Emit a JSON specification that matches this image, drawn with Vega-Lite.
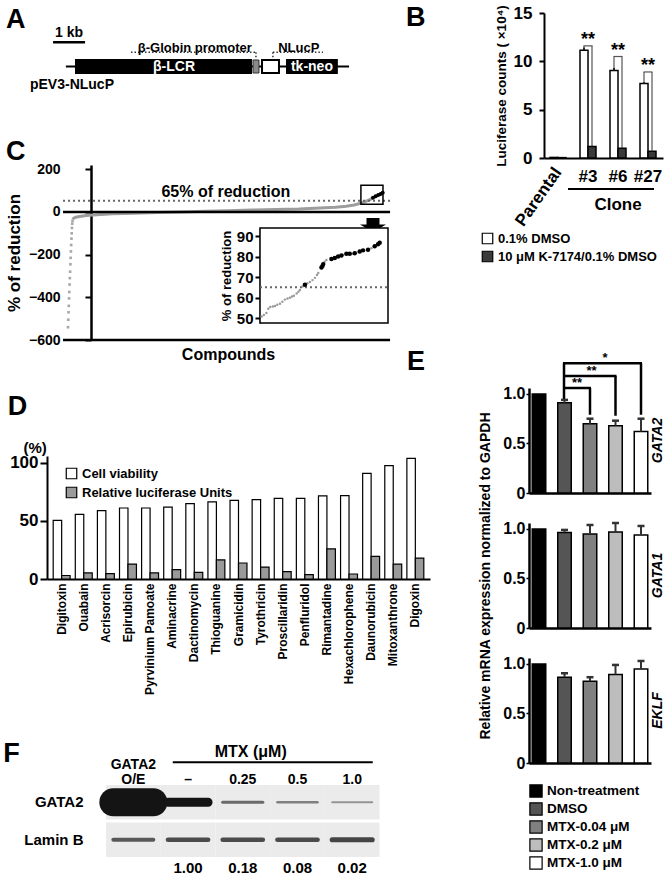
{
"$schema": "https://vega.github.io/schema/vega-lite/v6.json",
"background": "white",
"padding": {"left": 3, "top": 4, "right": 0, "bottom": 0},
"config": {
  "font": "Liberation Sans",
  "view": {"stroke": null},
  "axis": {"labelFont": "Liberation Sans", "titleFont": "Liberation Sans", "labelFontWeight": "bold", "titleFontWeight": "bold", "labelColor": "black", "titleColor": "black", "domainColor": "black", "tickColor": "black", "grid": false, "labelOverlap": false, "labelBound": false},
  "legend": {"labelFont": "Liberation Sans", "labelFontWeight": "bold", "labelColor": "black", "symbolType": "square", "symbolStrokeColor": "black", "symbolStrokeWidth": 1.2, "symbolOpacity": 1},
  "text": {"font": "Liberation Sans", "fontWeight": "bold", "color": "black"}
},
"datasets": {
  "construct": [
    {"feature": "vector", "start": 0.59, "end": 9.44},
    {"feature": "1 kb", "start": 0.19, "end": 1.19},
    {"feature": "β-LCR", "start": 0.875, "end": 6.41},
    {"feature": "β-Globin promoter", "start": 6.44, "end": 6.625},
    {"feature": "NLucP", "start": 6.72, "end": 7.25},
    {"feature": "tk-neo", "start": 7.47, "end": 9.09}
  ],
  "constructLabels": [
    {"label": "β-LCR", "kb": 3.97, "place": "inside"},
    {"label": "tk-neo", "kb": 8.28, "place": "inside"},
    {"label": "β-Globin promoter", "kb": 4.62, "place": "above"},
    {"label": "NLucP", "kb": 7.87, "place": "above"},
    {"label": "1 kb", "kb": 0.69, "place": "scale"},
    {"label": "pEV3-NLucP", "kb": 0.78, "place": "name"},
    {"label": "A", "kb": -1.28, "place": "panel"}
  ],
  "leaders": [
    {"label": "β-Globin promoter", "from": 2.625, "to": 6.53, "drop": 6.53},
    {"label": "NLucP", "from": 7.06, "to": 8.625, "drop": 7.06}
  ],
  "luc": [
    {"sample": "Parental", "treatment": "0.1% DMSO", "value": 0.06, "upper": 0.06},
    {"sample": "Parental", "treatment": "10 μM K-7174/0.1% DMSO", "value": 0.04, "upper": 0.04},
    {"sample": "#3", "treatment": "0.1% DMSO", "value": 11.15, "upper": 11.45},
    {"sample": "#3", "treatment": "10 μM K-7174/0.1% DMSO", "value": 1.2, "upper": 1.3},
    {"sample": "#6", "treatment": "0.1% DMSO", "value": 9.05, "upper": 9.35},
    {"sample": "#6", "treatment": "10 μM K-7174/0.1% DMSO", "value": 1.0, "upper": 1.08},
    {"sample": "#27", "treatment": "0.1% DMSO", "value": 7.7, "upper": 7.85},
    {"sample": "#27", "treatment": "10 μM K-7174/0.1% DMSO", "value": 0.7, "upper": 0.75}
  ],
  "lucSig": [
    {"sample": "#3", "level": 11.6, "leftLow": 11.45, "rightLow": 1.35, "sig": "**"},
    {"sample": "#6", "level": 10.5, "leftLow": 9.35, "rightLow": 1.15, "sig": "**"},
    {"sample": "#27", "level": 8.9, "leftLow": 7.85, "rightLow": 0.82, "sig": "**"}
  ],
  "screenCurve": [
    {"rank": 1, "reduction": -540}, {"rank": 2, "reduction": -505}, {"rank": 3, "reduction": -470}, {"rank": 4, "reduction": -440},
    {"rank": 5, "reduction": -405}, {"rank": 6, "reduction": -375}, {"rank": 7, "reduction": -340}, {"rank": 8, "reduction": -310},
    {"rank": 9, "reduction": -280}, {"rank": 10, "reduction": -245}, {"rank": 11, "reduction": -215}, {"rank": 12, "reduction": -185},
    {"rank": 13, "reduction": -155}, {"rank": 14, "reduction": -125}, {"rank": 15, "reduction": -100}, {"rank": 16, "reduction": -75},
    {"rank": 17, "reduction": -55}, {"rank": 18, "reduction": -42},
    {"rank": 19, "reduction": -35}, {"rank": 22, "reduction": -30}, {"rank": 30, "reduction": -25}, {"rank": 45, "reduction": -21},
    {"rank": 70, "reduction": -17}, {"rank": 110, "reduction": -13}, {"rank": 170, "reduction": -9}, {"rank": 250, "reduction": -6},
    {"rank": 340, "reduction": -3}, {"rank": 430, "reduction": 0}, {"rank": 520, "reduction": 3}, {"rank": 610, "reduction": 6},
    {"rank": 700, "reduction": 9}, {"rank": 790, "reduction": 12}, {"rank": 880, "reduction": 14}, {"rank": 960, "reduction": 18},
    {"rank": 1020, "reduction": 22}, {"rank": 1060, "reduction": 27}, {"rank": 1090, "reduction": 33}, {"rank": 1115, "reduction": 41},
    {"rank": 1135, "reduction": 50}, {"rank": 1150, "reduction": 58}, {"rank": 1162, "reduction": 66}, {"rank": 1172, "reduction": 73},
    {"rank": 1182, "reduction": 79}, {"rank": 1191, "reduction": 84}, {"rank": 1199, "reduction": 90}
  ],
  "cLevels": [
    {"level": 0, "kind": "zero"},
    {"level": -600, "kind": "floor"},
    {"level": 52, "kind": "cutoff"}
  ],
  "topHits": [
    {"i": 1.3, "reduction": 50.8, "hit": false}, {"i": 3, "reduction": 51.5, "hit": false}, {"i": 5, "reduction": 52.5, "hit": false},
    {"i": 6.5, "reduction": 54.5, "hit": false}, {"i": 8, "reduction": 55.4, "hit": false}, {"i": 10, "reduction": 55.6, "hit": false},
    {"i": 11.7, "reduction": 55.9, "hit": false}, {"i": 13.5, "reduction": 56.5, "hit": false}, {"i": 15.6, "reduction": 57, "hit": false},
    {"i": 17.5, "reduction": 58, "hit": false}, {"i": 19.5, "reduction": 59, "hit": false}, {"i": 21.5, "reduction": 59.5, "hit": false},
    {"i": 23.4, "reduction": 59.9, "hit": false}, {"i": 25, "reduction": 60.5, "hit": false}, {"i": 26.5, "reduction": 60.9, "hit": false},
    {"i": 28.6, "reduction": 62, "hit": false}, {"i": 30, "reduction": 62.8, "hit": false}, {"i": 31.2, "reduction": 63.7, "hit": false},
    {"i": 33.2, "reduction": 65.4, "hit": false}, {"i": 35.1, "reduction": 66.2, "hit": true}, {"i": 37, "reduction": 67, "hit": false},
    {"i": 39, "reduction": 67.6, "hit": false}, {"i": 41, "reduction": 68.5, "hit": false}, {"i": 42.9, "reduction": 69.6, "hit": false},
    {"i": 44.5, "reduction": 71, "hit": false}, {"i": 45.5, "reduction": 72, "hit": false}, {"i": 48, "reduction": 74.6, "hit": true},
    {"i": 48.8, "reduction": 75.4, "hit": true}, {"i": 49.4, "reduction": 76.3, "hit": true}, {"i": 50.5, "reduction": 77.5, "hit": false},
    {"i": 51.9, "reduction": 78.3, "hit": false}, {"i": 55.8, "reduction": 78.8, "hit": true}, {"i": 58.4, "reduction": 79.3, "hit": true},
    {"i": 61, "reduction": 80, "hit": true}, {"i": 63.6, "reduction": 80.5, "hit": true}, {"i": 64.9, "reduction": 80.8, "hit": false},
    {"i": 67.5, "reduction": 81.3, "hit": true}, {"i": 70.1, "reduction": 81.3, "hit": true}, {"i": 72, "reduction": 81.4, "hit": false},
    {"i": 74, "reduction": 81.6, "hit": true}, {"i": 75.3, "reduction": 81.8, "hit": false}, {"i": 77.9, "reduction": 82.5, "hit": true},
    {"i": 80.5, "reduction": 83, "hit": true}, {"i": 84.4, "reduction": 83.3, "hit": true}, {"i": 87, "reduction": 84, "hit": false},
    {"i": 89.6, "reduction": 85, "hit": true}, {"i": 92.2, "reduction": 86, "hit": true}, {"i": 93.5, "reduction": 86.7, "hit": true}
  ],
  "screen": [
    {"compound": "Digitoxin", "measure": "Cell viability", "value": 50.5}, {"compound": "Digitoxin", "measure": "Relative luciferase Units", "value": 3},
    {"compound": "Ouabain", "measure": "Cell viability", "value": 55.7}, {"compound": "Ouabain", "measure": "Relative luciferase Units", "value": 5.2},
    {"compound": "Acrisorcin", "measure": "Cell viability", "value": 58.9}, {"compound": "Acrisorcin", "measure": "Relative luciferase Units", "value": 4.6},
    {"compound": "Epirubicin", "measure": "Cell viability", "value": 61.2}, {"compound": "Epirubicin", "measure": "Relative luciferase Units", "value": 12.9},
    {"compound": "Pyrvinium Pamoate", "measure": "Cell viability", "value": 61.2}, {"compound": "Pyrvinium Pamoate", "measure": "Relative luciferase Units", "value": 5.2},
    {"compound": "Aminacrine", "measure": "Cell viability", "value": 62}, {"compound": "Aminacrine", "measure": "Relative luciferase Units", "value": 8},
    {"compound": "Dactinomycin", "measure": "Cell viability", "value": 65}, {"compound": "Dactinomycin", "measure": "Relative luciferase Units", "value": 5.7},
    {"compound": "Thioguanine", "measure": "Cell viability", "value": 66.4}, {"compound": "Thioguanine", "measure": "Relative luciferase Units", "value": 16.4},
    {"compound": "Gramicidin", "measure": "Cell viability", "value": 67.8}, {"compound": "Gramicidin", "measure": "Relative luciferase Units", "value": 13.8},
    {"compound": "Tyrothricin", "measure": "Cell viability", "value": 68.4}, {"compound": "Tyrothricin", "measure": "Relative luciferase Units", "value": 10.3},
    {"compound": "Proscillaridin", "measure": "Cell viability", "value": 69.5}, {"compound": "Proscillaridin", "measure": "Relative luciferase Units", "value": 6.3},
    {"compound": "Penfluridol", "measure": "Cell viability", "value": 69.5}, {"compound": "Penfluridol", "measure": "Relative luciferase Units", "value": 3.7},
    {"compound": "Rimantadine", "measure": "Cell viability", "value": 71.6}, {"compound": "Rimantadine", "measure": "Relative luciferase Units", "value": 25.9},
    {"compound": "Hexachlorophene", "measure": "Cell viability", "value": 71.8}, {"compound": "Hexachlorophene", "measure": "Relative luciferase Units", "value": 4.3},
    {"compound": "Daunorubicin", "measure": "Cell viability", "value": 91.1}, {"compound": "Daunorubicin", "measure": "Relative luciferase Units", "value": 19.5},
    {"compound": "Mitoxanthrone", "measure": "Cell viability", "value": 97.7}, {"compound": "Mitoxanthrone", "measure": "Relative luciferase Units", "value": 12.9},
    {"compound": "Digoxin", "measure": "Cell viability", "value": 104}, {"compound": "Digoxin", "measure": "Relative luciferase Units", "value": 18}
  ],
  "qpcr": [
    {"gene": "GATA2", "condition": "Non-treatment", "value": 1.0, "upper": 1.0},
    {"gene": "GATA2", "condition": "DMSO", "value": 0.91, "upper": 0.94},
    {"gene": "GATA2", "condition": "MTX-0.04 μM", "value": 0.70, "upper": 0.75},
    {"gene": "GATA2", "condition": "MTX-0.2 μM", "value": 0.68, "upper": 0.73},
    {"gene": "GATA2", "condition": "MTX-1.0 μM", "value": 0.62, "upper": 0.75},
    {"gene": "GATA1", "condition": "Non-treatment", "value": 1.0, "upper": 1.0},
    {"gene": "GATA1", "condition": "DMSO", "value": 0.965, "upper": 0.99},
    {"gene": "GATA1", "condition": "MTX-0.04 μM", "value": 0.95, "upper": 1.04},
    {"gene": "GATA1", "condition": "MTX-0.2 μM", "value": 0.97, "upper": 1.06},
    {"gene": "GATA1", "condition": "MTX-1.0 μM", "value": 0.94, "upper": 1.03},
    {"gene": "EKLF", "condition": "Non-treatment", "value": 1.0, "upper": 1.0},
    {"gene": "EKLF", "condition": "DMSO", "value": 0.866, "upper": 0.906},
    {"gene": "EKLF", "condition": "MTX-0.04 μM", "value": 0.826, "upper": 0.866},
    {"gene": "EKLF", "condition": "MTX-0.2 μM", "value": 0.893, "upper": 0.99},
    {"gene": "EKLF", "condition": "MTX-1.0 μM", "value": 0.95, "upper": 1.03}
  ],
  "gata2Sig": [
    {"vs": "MTX-0.04 μM", "level": 1.06, "legEnd": 0.79, "fromTop": 0.95, "sig": "**"},
    {"vs": "MTX-0.2 μM", "level": 1.18, "legEnd": 0.78, "fromTop": 0.95, "sig": "**"},
    {"vs": "MTX-1.0 μM", "level": 1.31, "legEnd": 0.79, "fromTop": 0.95, "sig": "*"}
  ],
  "blot": [
    {"lane": "O/E", "protein": "GATA2", "intensity": 3.7},
    {"lane": "–", "protein": "GATA2", "intensity": 1.0},
    {"lane": "0.25", "protein": "GATA2", "intensity": 0.18},
    {"lane": "0.5", "protein": "GATA2", "intensity": 0.08},
    {"lane": "1.0", "protein": "GATA2", "intensity": 0.02},
    {"lane": "O/E", "protein": "Lamin B", "intensity": 0.3},
    {"lane": "–", "protein": "Lamin B", "intensity": 0.4},
    {"lane": "0.25", "protein": "Lamin B", "intensity": 0.4},
    {"lane": "0.5", "protein": "Lamin B", "intensity": 0.4},
    {"lane": "1.0", "protein": "Lamin B", "intensity": 0.45}
  ]
},
"spacing": -24,
"resolve": {"scale": {"fill": "independent"}},
"hconcat": [
 {"bounds": "flush", "spacing": 0,
  "resolve": {"scale": {"fill": "independent"}},
  "vconcat": [
  {
   "width": 383, "height": 87,
   "layer": [
    {"data": {"name": "construct"}, "transform": [{"filter": "datum.feature === 'vector'"}],
     "mark": {"type": "rule", "strokeWidth": 2, "color": "black"},
     "encoding": {"x": {"field": "start", "type": "quantitative", "scale": {"domain": [0, 11.97], "nice": false, "zero": false}, "axis": null}, "x2": {"field": "end"},
                  "y": {"datum": 0, "type": "quantitative", "scale": {"domain": [-3.35, 5.35], "nice": false, "zero": false}, "axis": null}}},
    {"data": {"name": "construct"}, "transform": [{"filter": "datum.feature === '1 kb'"}],
     "mark": {"type": "rule", "strokeWidth": 2.5, "color": "black"},
     "encoding": {"x": {"field": "start", "type": "quantitative", "axis": null}, "x2": {"field": "end"}, "y": {"datum": 2.42, "type": "quantitative", "axis": null}}},
    {"data": {"name": "construct"}, "transform": [{"filter": "datum.feature === 'β-LCR' || datum.feature === 'tk-neo'"}],
     "mark": {"type": "rect", "color": "black"},
     "encoding": {"x": {"field": "start", "type": "quantitative", "axis": null}, "x2": {"field": "end"}, "y": {"datum": -0.75, "type": "quantitative", "axis": null}, "y2": {"datum": 0.75}}},
    {"data": {"name": "construct"}, "transform": [{"filter": "datum.feature === 'β-Globin promoter'"}],
     "mark": {"type": "rect", "fill": "#8a8a8a", "stroke": "#333", "strokeWidth": 1},
     "encoding": {"x": {"field": "start", "type": "quantitative", "axis": null}, "x2": {"field": "end"}, "y": {"datum": -0.65, "type": "quantitative", "axis": null}, "y2": {"datum": 0.65}}},
    {"data": {"name": "construct"}, "transform": [{"filter": "datum.feature === 'NLucP'"}],
     "mark": {"type": "rect", "fill": "white", "stroke": "black", "strokeWidth": 2},
     "encoding": {"x": {"field": "start", "type": "quantitative", "axis": null}, "x2": {"field": "end"}, "y": {"datum": -0.65, "type": "quantitative", "axis": null}, "y2": {"datum": 0.65}}},
    {"data": {"name": "leaders"},
     "mark": {"type": "rule", "strokeWidth": 1.5, "strokeDash": [1.5, 2], "color": "#333"},
     "encoding": {"x": {"field": "from", "type": "quantitative", "axis": null}, "x2": {"field": "to"}, "y": {"datum": 1.42, "type": "quantitative", "axis": null}}},
    {"data": {"name": "leaders"},
     "mark": {"type": "rule", "strokeWidth": 1.5, "strokeDash": [1.5, 2], "color": "#333"},
     "encoding": {"x": {"field": "drop", "type": "quantitative", "axis": null}, "y": {"datum": 1.42, "type": "quantitative", "axis": null}, "y2": {"datum": 0.7}}},
    {"data": {"name": "constructLabels"}, "transform": [{"filter": "datum.place === 'inside'"}],
     "mark": {"type": "text", "fontSize": 14, "color": "white", "baseline": "middle"},
     "encoding": {"x": {"field": "kb", "type": "quantitative", "axis": null}, "y": {"datum": 0, "type": "quantitative", "axis": null}, "text": {"field": "label", "type": "nominal"}}},
    {"data": {"name": "constructLabels"}, "transform": [{"filter": "datum.place === 'above'"}],
     "mark": {"type": "text", "fontSize": 13, "baseline": "alphabetic"},
     "encoding": {"x": {"field": "kb", "type": "quantitative", "axis": null}, "y": {"datum": 1.5, "type": "quantitative", "axis": null}, "text": {"field": "label", "type": "nominal"}}},
    {"data": {"name": "constructLabels"}, "transform": [{"filter": "datum.place === 'scale'"}],
     "mark": {"type": "text", "fontSize": 14, "baseline": "alphabetic"},
     "encoding": {"x": {"field": "kb", "type": "quantitative", "axis": null}, "y": {"datum": 2.95, "type": "quantitative", "axis": null}, "text": {"field": "label", "type": "nominal"}}},
    {"data": {"name": "constructLabels"}, "transform": [{"filter": "datum.place === 'name'"}],
     "mark": {"type": "text", "fontSize": 14, "baseline": "alphabetic"},
     "encoding": {"x": {"field": "kb", "type": "quantitative", "axis": null}, "y": {"datum": -2.25, "type": "quantitative", "axis": null}, "text": {"field": "label", "type": "nominal"}}},
    {"data": {"name": "constructLabels"}, "transform": [{"filter": "datum.place === 'panel'"}],
     "mark": {"type": "text", "fontSize": 27, "align": "left", "baseline": "alphabetic"},
     "encoding": {"x": {"field": "kb", "type": "quantitative", "axis": null}, "y": {"datum": 3.85, "type": "quantitative", "axis": null}, "text": {"field": "label", "type": "nominal"}}}
   ]
  },
  {"width": 1, "height": 65, "data": {"values": []}, "mark": "point"},
  {
   "width": 383, "height": 175,
   "resolve": {"scale": {"x": "independent", "y": "independent"}, "axis": {"x": "independent", "y": "independent"}},
   "layer": [
    {"layer": [
      {"data": {"name": "screenCurve"}, "transform": [{"filter": "datum.reduction > -40"}],
       "mark": {"type": "line", "color": "#9d9d9d", "strokeWidth": 3},
       "encoding": {
         "x": {"field": "rank", "type": "quantitative", "scale": {"domain": [-79, 1379], "nice": false, "zero": false},
               "axis": {"title": "Compounds", "domain": false, "ticks": false, "labels": false, "titleFontSize": 16, "titleX": 181, "titlePadding": 6}},
         "y": {"field": "reduction", "type": "quantitative", "scale": {"domain": [-600, 220], "nice": false, "zero": false},
               "axis": {"values": [-600, -500, -400, -300, -200, -100, 0, 100, 200], "labelOverlap": false, "offset": -44, "tickSize": 6, "tickWidth": 2, "domainWidth": 2.5, "labelFontSize": 14, "labelPadding": 25, "title": "% of reduction", "titleFontSize": 17, "titlePadding": 5}}}},
      {"data": {"name": "screenCurve"}, "transform": [{"filter": "datum.reduction <= -40"}],
       "mark": {"type": "square", "size": 7, "color": "#a8a8a8", "opacity": 1},
       "encoding": {"x": {"field": "rank", "type": "quantitative"},
                    "y": {"field": "reduction", "type": "quantitative",
                          "axis": {"values": [-600, -500, -400, -300, -200, -100, 0, 100, 200], "labelOverlap": false, "offset": -44, "tickSize": 6, "tickWidth": 2, "domainWidth": 2.5, "labelFontSize": 14, "labelPadding": 25, "title": "% of reduction", "titleFontSize": 17, "titlePadding": 5}}}},
      {"data": {"name": "screenCurve"}, "transform": [{"filter": "datum.reduction >= 60"}],
       "mark": {"type": "circle", "size": 16, "color": "black", "opacity": 1},
       "encoding": {"x": {"field": "rank", "type": "quantitative"},
                    "y": {"field": "reduction", "type": "quantitative",
                          "axis": {"values": [-600, -500, -400, -300, -200, -100, 0, 100, 200], "labelOverlap": false, "offset": -44, "tickSize": 6, "tickWidth": 2, "domainWidth": 2.5, "labelFontSize": 14, "labelPadding": 25, "title": "% of reduction", "titleFontSize": 17, "titlePadding": 5}}}},
      {"data": {"name": "cLevels"}, "transform": [{"filter": "datum.kind !== 'cutoff'"}],
       "mark": {"type": "rule", "strokeWidth": 2.5, "color": "black"},
       "encoding": {"x": {"datum": -18, "type": "quantitative"}, "x2": {"datum": 1227},
                    "y": {"field": "level", "type": "quantitative",
                          "axis": {"values": [-600, -500, -400, -300, -200, -100, 0, 100, 200], "labelOverlap": false, "offset": -44, "tickSize": 6, "tickWidth": 2, "domainWidth": 2.5, "labelFontSize": 14, "labelPadding": 25, "title": "% of reduction", "titleFontSize": 17, "titlePadding": 5}}}},
      {"data": {"name": "cLevels"}, "transform": [{"filter": "datum.kind === 'cutoff'"}],
       "mark": {"type": "rule", "strokeWidth": 2, "strokeDash": [2, 3], "color": "#666"},
       "encoding": {"x": {"datum": -18, "type": "quantitative"}, "x2": {"datum": 1227},
                    "y": {"field": "level", "type": "quantitative",
                          "axis": {"values": [-600, -500, -400, -300, -200, -100, 0, 100, 200], "labelOverlap": false, "offset": -44, "tickSize": 6, "tickWidth": 2, "domainWidth": 2.5, "labelFontSize": 14, "labelPadding": 25, "title": "% of reduction", "titleFontSize": 17, "titlePadding": 5}}}},
      {"data": {"values": [{"note": "hits"}]},
       "mark": {"type": "rect", "filled": false, "stroke": "black", "strokeWidth": 1.5},
       "encoding": {"x": {"datum": 1116, "type": "quantitative"}, "x2": {"datum": 1200}, "y": {"datum": 125, "type": "quantitative"}, "y2": {"datum": 36}}},
      {"data": {"values": [{"note": "arrow"}]},
       "mark": {"type": "point", "filled": true, "color": "black", "opacity": 1, "size": 676, "shape": "M-0.5,-0.55L0.5,-0.55L0.5,-0.05L1,-0.05L0,0.55L-1,-0.05L-0.5,-0.05Z"},
       "encoding": {"x": {"datum": 1162, "type": "quantitative"}, "y": {"datum": -62, "type": "quantitative"}}},
      {"data": {"values": [{"note": "65% of reduction"}]},
       "mark": {"type": "text", "fontSize": 16, "baseline": "alphabetic"},
       "encoding": {"x": {"datum": 602, "type": "quantitative"}, "y": {"datum": 69, "type": "quantitative"}, "text": {"field": "note", "type": "nominal"}}},
      {"data": {"values": [{"note": "C"}]},
       "mark": {"type": "text", "fontSize": 27, "align": "left", "baseline": "alphabetic"},
       "encoding": {"x": {"datum": -235, "type": "quantitative"}, "y": {"datum": 242, "type": "quantitative"}, "text": {"field": "note", "type": "nominal"}}}
    ]},
    {"layer": [
      {"data": {"values": [{"note": "inset"}]},
       "mark": {"type": "rect", "fill": "white", "stroke": "black", "strokeWidth": 1.5},
       "encoding": {
         "x": {"datum": 0, "type": "quantitative", "scale": {"domain": [0, 100], "range": [213, 341], "nice": false, "zero": false}, "axis": null},
         "x2": {"datum": 100},
         "y": {"datum": 47.6, "type": "quantitative", "scale": {"domain": [47.6, 93.9], "range": [158, 63], "nice": false, "zero": false}},
         "y2": {"datum": 93.9}}},
      {"data": {"values": [{"note": "cutoff"}]},
       "mark": {"type": "rule", "strokeWidth": 2, "strokeDash": [2, 3], "color": "#666"},
       "encoding": {"x": {"datum": 0, "type": "quantitative", "axis": null}, "x2": {"datum": 100}, "y": {"datum": 65, "type": "quantitative"}}},
      {"data": {"name": "topHits"}, "transform": [{"filter": "!datum.hit"}],
       "mark": {"type": "circle", "size": 6, "color": "#9a9a9a", "opacity": 1},
       "encoding": {"x": {"field": "i", "type": "quantitative", "axis": null},
                    "y": {"field": "reduction", "type": "quantitative",
                          "axis": {"orient": "left", "offset": -213, "values": [50, 60, 70, 80, 90], "labelOverlap": false, "tickSize": 5, "tickWidth": 2, "domainWidth": 1.5, "labelFontSize": 15, "labelPadding": 2, "title": "% of reduction", "titleFontSize": 13, "titlePadding": 3}}}},
      {"data": {"name": "topHits"}, "transform": [{"filter": "datum.hit"}],
       "mark": {"type": "circle", "size": 20, "color": "black", "opacity": 1},
       "encoding": {"x": {"field": "i", "type": "quantitative", "axis": null}, "y": {"field": "reduction", "type": "quantitative"}}}
    ]}
   ]
  },
  {"width": 1, "height": 116, "data": {"values": []}, "mark": "point"},
  {
   "width": 383, "height": 123,
   "layer": [
    {"data": {"name": "screen"},
     "mark": {"type": "bar", "stroke": "black", "strokeWidth": 1.2},
     "encoding": {
       "x": {"field": "compound", "type": "nominal", "sort": null,
             "scale": {"domain": ["Digitoxin", "Ouabain", "Acrisorcin", "Epirubicin", "Pyrvinium Pamoate", "Aminacrine", "Dactinomycin", "Thioguanine", "Gramicidin", "Tyrothricin", "Proscillaridin", "Penfluridol", "Rimantadine", "Hexachlorophene", "Daunorubicin", "Mitoxanthrone", "Digoxin"], "paddingInner": 0.234, "paddingOuter": 0.28},
             "axis": {"title": null, "labelAngle": -90, "labelFontSize": 12, "ticks": false, "labelPadding": 4, "domainWidth": 2}},
       "xOffset": {"field": "measure", "type": "nominal", "sort": ["Cell viability", "Relative luciferase Units"]},
       "y": {"field": "value", "type": "quantitative", "scale": {"domain": [0, 106], "nice": false},
             "axis": {"values": [0, 25, 50, 75, 100], "labelExpr": "datum.value % 50 === 0 ? datum.label : ''", "tickSize": 7, "tickWidth": 2, "domainWidth": 2, "labelFontSize": 17, "labelPadding": 2,
                      "title": "(%)", "titleAngle": 0, "titleX": -24, "titleY": -9, "titleAlign": "left", "titleBaseline": "middle", "titleFontSize": 15}},
       "fill": {"field": "measure", "type": "nominal", "scale": {"domain": ["Cell viability", "Relative luciferase Units"], "range": ["white", "#9a9a9a"]},
                "legend": {"title": null, "orient": "none", "legendX": 18, "legendY": 11, "labelFontSize": 13, "symbolSize": 110, "rowPadding": 2}}
     }},
    {"data": {"values": [{"panel": "D", "compound": "Digitoxin"}]},
     "mark": {"type": "text", "fontSize": 27, "align": "left", "baseline": "alphabetic", "dx": -54},
     "encoding": {"x": {"field": "compound", "type": "nominal"}, "y": {"datum": 141, "type": "quantitative"}, "text": {"field": "panel", "type": "nominal"}}}
   ]
  },
  {"width": 1, "height": 206, "data": {"values": []}, "mark": "point"},
  {
   "width": 383, "height": 72,
   "layer": [
    {"data": {"name": "blot"},
     "mark": {"type": "rect", "color": "#ebebeb"},
     "encoding": {
       "x": {"field": "lane", "type": "nominal", "scale": {"type": "band", "domain": ["O/E", "–", "0.25", "0.5", "1.0"], "paddingInner": 0, "paddingOuter": 1.08, "align": 0.539}, "axis": null},
       "y": {"field": "protein", "type": "nominal", "scale": {"type": "band", "domain": ["GATA2", "Lamin B"], "paddingInner": 0.08, "paddingOuter": 0},
             "axis": {"title": null, "ticks": false, "domain": false, "labelFontSize": 15, "labelPadding": 26, "offset": -62}}}},
    {"data": {"name": "blot"},
     "mark": {"type": "point", "shape": "M-1,0L1,0", "size": 1600, "filled": false, "stroke": "#141414", "strokeCap": "round"},
     "encoding": {
       "x": {"field": "lane", "type": "nominal"},
       "y": {"field": "protein", "type": "nominal"},
       "strokeWidth": {"field": "intensity", "type": "quantitative", "scale": {"domain": [0, 3.7], "range": [1.9, 28]}, "legend": null},
       "opacity": {"field": "intensity", "type": "quantitative", "scale": {"type": "sqrt", "domain": [0, 1], "range": [0.3, 1], "clamp": true}, "legend": null}}},
    {"data": {"name": "blot"}, "transform": [{"filter": "datum.protein === 'GATA2'"}],
     "mark": {"type": "text", "fontSize": 14, "dy": -22, "baseline": "middle"},
     "encoding": {"x": {"field": "lane", "type": "nominal"}, "y": {"field": "protein", "type": "nominal"}, "text": {"field": "lane", "type": "nominal"}}},
    {"data": {"name": "blot"}, "transform": [{"filter": "datum.protein === 'GATA2' && datum.lane === 'O/E'"}],
     "mark": {"type": "text", "fontSize": 14, "dy": -37, "baseline": "middle"},
     "encoding": {"x": {"field": "lane", "type": "nominal"}, "y": {"field": "protein", "type": "nominal"}, "text": {"field": "protein", "type": "nominal"}}},
    {"data": {"values": [{"label": "MTX (μM)", "lane": "0.25", "protein": "GATA2"}]},
     "mark": {"type": "text", "fontSize": 16, "dy": -50, "dx": 8, "baseline": "middle"},
     "encoding": {"x": {"field": "lane", "type": "nominal"}, "y": {"field": "protein", "type": "nominal"}, "text": {"field": "label", "type": "nominal"}}},
    {"data": {"values": [{"label": "MTX (μM)", "lane": "0.25", "protein": "GATA2"}]},
     "mark": {"type": "point", "shape": "M-1,0L1,0", "size": 40000, "filled": false, "stroke": "black", "strokeWidth": 2, "opacity": 1, "xOffset": 30, "yOffset": -40},
     "encoding": {"x": {"field": "lane", "type": "nominal"}, "y": {"field": "protein", "type": "nominal"}}},
    {"data": {"name": "blot"}, "transform": [{"filter": "datum.protein === 'GATA2' && datum.lane !== 'O/E'"}],
     "mark": {"type": "text", "fontSize": 15, "dy": 66, "baseline": "middle"},
     "encoding": {"x": {"field": "lane", "type": "nominal"}, "y": {"field": "protein", "type": "nominal"}, "text": {"field": "intensity", "type": "quantitative", "format": ".2f"}}},
    {"data": {"values": [{"panel": "F", "lane": "O/E", "protein": "GATA2"}]},
     "mark": {"type": "text", "fontSize": 27, "align": "left", "baseline": "alphabetic", "dx": -130, "dy": -40},
     "encoding": {"x": {"field": "lane", "type": "nominal"}, "y": {"field": "protein", "type": "nominal"}, "text": {"field": "panel", "type": "nominal"}}}
   ]
  }
 ]},
 {"bounds": "flush", "spacing": 0,
  "resolve": {"scale": {"fill": "independent"}},
  "vconcat": [
  {
   "width": 134, "height": 145,
   "layer": [
    {"data": {"name": "luc"}, "transform": [{"filter": "datum.treatment === '0.1% DMSO'"}],
     "mark": {"type": "bar", "stroke": "black", "strokeWidth": 1.5, "width": 8, "xOffset": -4},
     "encoding": {
       "x": {"field": "sample", "type": "nominal", "scale": {"type": "band", "domain": ["Parental", "#3", "#6", "#27"], "paddingInner": 0.467, "paddingOuter": 0.467, "align": 0.75},
             "axis": {"title": null, "ticks": false, "domainWidth": 2, "domainDash": [0, 15, 1000, 0], "labelFontSize": 17, "labelPadding": 10, "labelAngle": 0, "labelExpr": "datum.value === 'Parental' ? '' : datum.label"}},
       "y": {"field": "value", "type": "quantitative", "scale": {"domain": [0, 15], "nice": false},
             "axis": {"values": [0, 5, 10, 15], "tickSize": 5, "tickWidth": 2, "domainWidth": 2, "labelFontSize": 17, "labelPadding": 7, "offset": -15, "title": "Luciferase counts ( ×10⁴)", "titleFontSize": 13.5, "titlePadding": 5}},
       "fill": {"field": "treatment", "type": "nominal", "scale": {"domain": ["0.1% DMSO", "10 μM K-7174/0.1% DMSO"], "range": ["white", "#3a3a3a"]},
                "legend": {"title": null, "orient": "none", "legendX": -48, "legendY": 219, "labelFontSize": 13, "symbolSize": 110, "rowPadding": 1}}
     }},
    {"data": {"name": "luc"}, "transform": [{"filter": "datum.treatment !== '0.1% DMSO'"}],
     "mark": {"type": "bar", "stroke": "black", "strokeWidth": 1.5, "width": 8, "xOffset": 4},
     "encoding": {"x": {"field": "sample", "type": "nominal"}, "y": {"field": "value", "type": "quantitative"}, "fill": {"field": "treatment", "type": "nominal"}}},
    {"data": {"name": "luc"}, "transform": [{"filter": "datum.upper > datum.value && datum.treatment === '0.1% DMSO'"}],
     "mark": {"type": "rule", "strokeWidth": 2, "color": "#222", "xOffset": -4},
     "encoding": {"x": {"field": "sample", "type": "nominal"}, "y": {"field": "value", "type": "quantitative"}, "y2": {"field": "upper"}}},
    {"data": {"name": "luc"}, "transform": [{"filter": "datum.upper > datum.value && datum.treatment !== '0.1% DMSO'"}],
     "mark": {"type": "rule", "strokeWidth": 2, "color": "#222", "xOffset": 4},
     "encoding": {"x": {"field": "sample", "type": "nominal"}, "y": {"field": "value", "type": "quantitative"}, "y2": {"field": "upper"}}},
    {"data": {"name": "lucSig"},
     "mark": {"type": "point", "shape": "M-1,0L1,0", "size": 81, "filled": false, "stroke": "#555", "strokeWidth": 1.2, "opacity": 1},
     "encoding": {"x": {"field": "sample", "type": "nominal"}, "y": {"field": "level", "type": "quantitative"}}},
    {"data": {"name": "lucSig"},
     "mark": {"type": "rule", "strokeWidth": 1.2, "color": "#555", "xOffset": -4},
     "encoding": {"x": {"field": "sample", "type": "nominal"}, "y": {"field": "leftLow", "type": "quantitative"}, "y2": {"field": "level"}}},
    {"data": {"name": "lucSig"},
     "mark": {"type": "rule", "strokeWidth": 1.2, "color": "#555", "xOffset": 4},
     "encoding": {"x": {"field": "sample", "type": "nominal"}, "y": {"field": "rightLow", "type": "quantitative"}, "y2": {"field": "level"}}},
    {"data": {"name": "lucSig"},
     "mark": {"type": "text", "fontSize": 18, "dy": -1, "baseline": "alphabetic"},
     "encoding": {"x": {"field": "sample", "type": "nominal"}, "y": {"field": "level", "type": "quantitative"}, "text": {"field": "sig", "type": "nominal"}}},
    {"data": {"values": [{"label": "Clone", "sample": "#6"}]},
     "mark": {"type": "point", "shape": "M-1,0L1,0", "size": 7396, "filled": false, "stroke": "black", "strokeWidth": 2, "opacity": 1, "xOffset": -7},
     "encoding": {"x": {"field": "sample", "type": "nominal"}, "y": {"datum": -3.2, "type": "quantitative"}}},
    {"data": {"values": [{"label": "Clone", "sample": "#6"}]},
     "mark": {"type": "text", "fontSize": 17, "baseline": "middle"},
     "encoding": {"x": {"field": "sample", "type": "nominal"}, "y": {"datum": -4.9, "type": "quantitative"}, "text": {"field": "label", "type": "nominal"}}},
    {"data": {"name": "luc"}, "transform": [{"filter": "datum.sample === 'Parental' && datum.treatment === '0.1% DMSO'"}],
     "mark": {"type": "text", "fontSize": 17, "angle": -55, "align": "right", "baseline": "middle"},
     "encoding": {"x": {"field": "sample", "type": "nominal"}, "y": {"datum": -1.2, "type": "quantitative"}, "text": {"field": "sample", "type": "nominal"}}},
    {"data": {"values": [{"panel": "B", "sample": "Parental"}]},
     "mark": {"type": "text", "fontSize": 27, "align": "left", "baseline": "alphabetic", "dx": -152, "dy": 13},
     "encoding": {"x": {"field": "sample", "type": "nominal"}, "y": {"datum": 15, "type": "quantitative"}, "text": {"field": "panel", "type": "nominal"}}}
   ]
  },
  {"width": 1, "height": 230, "data": {"values": []}, "mark": "point"},
  {
   "width": 122, "height": 105,
   "layer": [
    {"data": {"name": "qpcr"}, "transform": [{"filter": "datum.gene === 'GATA2'"}],
     "mark": {"type": "bar", "stroke": "black", "strokeWidth": 1.5},
     "encoding": {
       "x": {"field": "condition", "type": "nominal", "scale": {"type": "band", "domain": ["Non-treatment", "DMSO", "MTX-0.04 μM", "MTX-0.2 μM", "MTX-1.0 μM"], "paddingInner": 0.47, "paddingOuter": 0.127},
             "axis": {"title": null, "labels": false, "ticks": false, "domainWidth": 2.5}},
       "y": {"field": "value", "type": "quantitative", "scale": {"domain": [0, 1.06], "nice": false},
             "axis": {"values": [0, 0.5, 1], "labelExpr": "datum.value === 0 ? '0' : format(datum.value, '.1f')", "labelFontSize": 16, "tickSize": 3, "tickWidth": 1.5, "domainWidth": 2.5, "labelPadding": 1, "title": null}},
       "fill": {"field": "condition", "type": "nominal", "scale": {"domain": ["Non-treatment", "DMSO", "MTX-0.04 μM", "MTX-0.2 μM", "MTX-1.0 μM"], "range": ["black", "#555555", "#808080", "#bdbdbd", "white"]}, "legend": null}
     }},
    {"data": {"name": "qpcr"}, "transform": [{"filter": "datum.gene === 'GATA2' && datum.upper > datum.value"}],
     "mark": {"type": "rule", "strokeWidth": 2, "color": "#333"},
     "encoding": {"x": {"field": "condition", "type": "nominal"}, "y": {"field": "value", "type": "quantitative"}, "y2": {"field": "upper"}}},
    {"data": {"name": "qpcr"}, "transform": [{"filter": "datum.gene === 'GATA2' && datum.upper > datum.value"}],
     "mark": {"type": "point", "shape": "M-1,0L1,0", "size": 49, "filled": false, "stroke": "#333", "strokeWidth": 2.5, "opacity": 1},
     "encoding": {"x": {"field": "condition", "type": "nominal"}, "y": {"field": "upper", "type": "quantitative"}}},
    {"data": {"name": "gata2Sig"}, "transform": [{"filter": "datum.vs === 'MTX-0.04 μM'"}],
     "mark": {"type": "point", "shape": "M-1,0L1,0", "size": 784, "filled": false, "stroke": "black", "strokeWidth": 2.5, "opacity": 1, "xOffset": -13},
     "encoding": {"x": {"field": "vs", "type": "nominal"}, "y": {"field": "level", "type": "quantitative"}}},
    {"data": {"name": "gata2Sig"}, "transform": [{"filter": "datum.vs === 'MTX-0.2 μM'"}],
     "mark": {"type": "point", "shape": "M-1,0L1,0", "size": 2809, "filled": false, "stroke": "black", "strokeWidth": 2.5, "opacity": 1, "xOffset": -25.5},
     "encoding": {"x": {"field": "vs", "type": "nominal"}, "y": {"field": "level", "type": "quantitative"}}},
    {"data": {"name": "gata2Sig"}, "transform": [{"filter": "datum.vs === 'MTX-1.0 μM'"}],
     "mark": {"type": "point", "shape": "M-1,0L1,0", "size": 6241, "filled": false, "stroke": "black", "strokeWidth": 2.5, "opacity": 1, "xOffset": -38.5},
     "encoding": {"x": {"field": "vs", "type": "nominal"}, "y": {"field": "level", "type": "quantitative"}}},
    {"data": {"name": "gata2Sig"}, "transform": [{"filter": "datum.vs === 'MTX-1.0 μM'"}],
     "mark": {"type": "rule", "strokeWidth": 2.5, "color": "black", "xOffset": -77},
     "encoding": {"x": {"field": "vs", "type": "nominal"}, "y": {"field": "fromTop", "type": "quantitative"}, "y2": {"field": "level"}}},
    {"data": {"name": "gata2Sig"},
     "mark": {"type": "rule", "strokeWidth": 2.5, "color": "black"},
     "encoding": {"x": {"field": "vs", "type": "nominal"}, "y": {"field": "legEnd", "type": "quantitative"}, "y2": {"field": "level"}}},
    {"data": {"name": "gata2Sig"}, "transform": [{"filter": "datum.vs === 'MTX-0.04 μM'"}],
     "mark": {"type": "text", "fontSize": 13, "dy": -1, "xOffset": -13, "baseline": "alphabetic"},
     "encoding": {"x": {"field": "vs", "type": "nominal"}, "y": {"field": "level", "type": "quantitative"}, "text": {"field": "sig", "type": "nominal"}}},
    {"data": {"name": "gata2Sig"}, "transform": [{"filter": "datum.vs === 'MTX-0.2 μM'"}],
     "mark": {"type": "text", "fontSize": 13, "dy": -1, "xOffset": -24, "baseline": "alphabetic"},
     "encoding": {"x": {"field": "vs", "type": "nominal"}, "y": {"field": "level", "type": "quantitative"}, "text": {"field": "sig", "type": "nominal"}}},
    {"data": {"name": "gata2Sig"}, "transform": [{"filter": "datum.vs === 'MTX-1.0 μM'"}],
     "mark": {"type": "text", "fontSize": 13, "dy": -1, "xOffset": -36, "baseline": "alphabetic"},
     "encoding": {"x": {"field": "vs", "type": "nominal"}, "y": {"field": "level", "type": "quantitative"}, "text": {"field": "sig", "type": "nominal"}}},
    {"data": {"name": "qpcr"}, "transform": [{"filter": "datum.gene === 'GATA2' && datum.condition === 'MTX-1.0 μM'"}],
     "mark": {"type": "text", "fontSize": 14, "fontStyle": "italic", "angle": -90, "xOffset": 17, "align": "center", "baseline": "middle"},
     "encoding": {"x": {"field": "condition", "type": "nominal"}, "y": {"datum": 0.53, "type": "quantitative"}, "text": {"field": "gene", "type": "nominal"}}},
    {"data": {"values": [{"panel": "E", "condition": "Non-treatment"}]},
     "mark": {"type": "text", "fontSize": 27, "align": "left", "baseline": "alphabetic", "dx": -132},
     "encoding": {"x": {"field": "condition", "type": "nominal"}, "y": {"datum": 1.24, "type": "quantitative"}, "text": {"field": "panel", "type": "nominal"}}}
   ]
  },
  {"width": 1, "height": 30, "data": {"values": []}, "mark": "point"},
  {
   "width": 122, "height": 105,
   "data": {"name": "qpcr"},
   "transform": [{"filter": "datum.gene === 'GATA1'"}],
   "layer": [
    {"mark": {"type": "bar", "stroke": "black", "strokeWidth": 1.5},
     "encoding": {
       "x": {"field": "condition", "type": "nominal", "scale": {"type": "band", "domain": ["Non-treatment", "DMSO", "MTX-0.04 μM", "MTX-0.2 μM", "MTX-1.0 μM"], "paddingInner": 0.47, "paddingOuter": 0.127},
             "axis": {"title": null, "labels": false, "ticks": false, "domainWidth": 2.5}},
       "y": {"field": "value", "type": "quantitative", "scale": {"domain": [0, 1.06], "nice": false},
             "axis": {"values": [0, 0.5, 1], "labelExpr": "datum.value === 0 ? '0' : format(datum.value, '.1f')", "labelFontSize": 16, "tickSize": 3, "tickWidth": 1.5, "domainWidth": 2.5, "labelPadding": 1,
                      "title": "Relative mRNA expression normalized to GAPDH", "titleFontSize": 14, "titlePadding": 10}},
       "fill": {"field": "condition", "type": "nominal", "scale": {"domain": ["Non-treatment", "DMSO", "MTX-0.04 μM", "MTX-0.2 μM", "MTX-1.0 μM"], "range": ["black", "#555555", "#808080", "#bdbdbd", "white"]}, "legend": null}
     }},
    {"transform": [{"filter": "datum.upper > datum.value"}],
     "mark": {"type": "rule", "strokeWidth": 2, "color": "#333"},
     "encoding": {"x": {"field": "condition", "type": "nominal"}, "y": {"field": "value", "type": "quantitative"}, "y2": {"field": "upper"}}},
    {"transform": [{"filter": "datum.upper > datum.value"}],
     "mark": {"type": "point", "shape": "M-1,0L1,0", "size": 49, "filled": false, "stroke": "#333", "strokeWidth": 2.5, "opacity": 1},
     "encoding": {"x": {"field": "condition", "type": "nominal"}, "y": {"field": "upper", "type": "quantitative"}}},
    {"transform": [{"filter": "datum.condition === 'MTX-1.0 μM'"}],
     "mark": {"type": "text", "fontSize": 14, "fontStyle": "italic", "angle": -90, "xOffset": 17, "align": "center", "baseline": "middle"},
     "encoding": {"x": {"field": "condition", "type": "nominal"}, "y": {"datum": 0.53, "type": "quantitative"}, "text": {"field": "gene", "type": "nominal"}}}
   ]
  },
  {"width": 1, "height": 30, "data": {"values": []}, "mark": "point"},
  {
   "width": 122, "height": 105,
   "data": {"name": "qpcr"},
   "transform": [{"filter": "datum.gene === 'EKLF'"}],
   "layer": [
    {"mark": {"type": "bar", "stroke": "black", "strokeWidth": 1.5},
     "encoding": {
       "x": {"field": "condition", "type": "nominal", "scale": {"type": "band", "domain": ["Non-treatment", "DMSO", "MTX-0.04 μM", "MTX-0.2 μM", "MTX-1.0 μM"], "paddingInner": 0.47, "paddingOuter": 0.127},
             "axis": {"title": null, "labels": false, "ticks": false, "domainWidth": 2.5}},
       "y": {"field": "value", "type": "quantitative", "scale": {"domain": [0, 1.06], "nice": false},
             "axis": {"values": [0, 0.5, 1], "labelExpr": "datum.value === 0 ? '0' : format(datum.value, '.1f')", "labelFontSize": 16, "tickSize": 3, "tickWidth": 1.5, "domainWidth": 2.5, "labelPadding": 1, "title": null}},
       "fill": {"field": "condition", "type": "nominal", "scale": {"domain": ["Non-treatment", "DMSO", "MTX-0.04 μM", "MTX-0.2 μM", "MTX-1.0 μM"], "range": ["black", "#555555", "#808080", "#bdbdbd", "white"]},
                "legend": {"title": null, "orient": "none", "legendX": 0, "legendY": 126, "labelFontSize": 13.5, "symbolSize": 150, "rowPadding": 0}}
     }},
    {"transform": [{"filter": "datum.upper > datum.value"}],
     "mark": {"type": "rule", "strokeWidth": 2, "color": "#333"},
     "encoding": {"x": {"field": "condition", "type": "nominal"}, "y": {"field": "value", "type": "quantitative"}, "y2": {"field": "upper"}}},
    {"transform": [{"filter": "datum.upper > datum.value"}],
     "mark": {"type": "point", "shape": "M-1,0L1,0", "size": 49, "filled": false, "stroke": "#333", "strokeWidth": 2.5, "opacity": 1},
     "encoding": {"x": {"field": "condition", "type": "nominal"}, "y": {"field": "upper", "type": "quantitative"}}},
    {"transform": [{"filter": "datum.condition === 'MTX-1.0 μM'"}],
     "mark": {"type": "text", "fontSize": 14, "fontStyle": "italic", "angle": -90, "xOffset": 17, "align": "center", "baseline": "middle"},
     "encoding": {"x": {"field": "condition", "type": "nominal"}, "y": {"datum": 0.53, "type": "quantitative"}, "text": {"field": "gene", "type": "nominal"}}}
   ]
  }
 ]}
]
}
